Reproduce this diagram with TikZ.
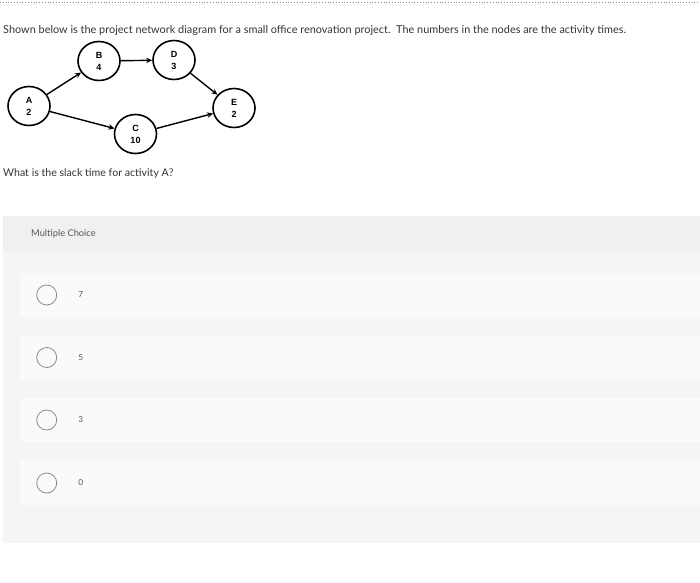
\documentclass[tikz,border=0pt]{standalone}
\usepackage{fontspec}
\setmainfont{Lato}
\newfontfamily\nodefont{Liberation Sans}
\usetikzlibrary{shapes.geometric}
\usetikzlibrary{positioning, arrows.meta}

\definecolor{textgray}{HTML}{333333}
\definecolor{lightgray}{HTML}{555555}
\definecolor{panelhead}{HTML}{F0F0F0}
\definecolor{panelbody}{HTML}{F5F5F5}
\definecolor{optionbox}{HTML}{FAFAFA}
\definecolor{radiogray}{HTML}{8A8A8A}

\begin{document}
\begin{tikzpicture}[x=1pt, y=-1pt]
        % Define styles for shapes
        \tikzset{
            activity/.style={draw, ellipse, line width=1.6pt, minimum width=42pt, minimum height=39pt, inner sep=0pt, align=center, font=\nodefont\bfseries\fontsize{9}{12}\selectfont},
            link/.style={line width=1.4pt, -{Stealth[length=6pt, width=5.5pt]}},
            prose/.style={anchor=west, inner sep=0pt, text=textgray, font=\fontsize{10.9}{12}\selectfont},
            radio/.style={draw=radiogray, circle, line width=0.8pt, minimum size=20pt, inner sep=0pt},
            choicetext/.style={inner sep=0pt, text=lightgray, font=\fontsize{8.2}{9}\selectfont}
        }
        \useasboundingbox (0,0) rectangle (700,582);
        % Top dotted rule
        \draw[radiogray, dotted, line width=0.8pt] (0,2) -- (700,2);

        \node[prose] (intro) at (3,30.5) {Shown below is the project network diagram for a small office renovation project.\ \ The numbers in the nodes are the activity times.};

        % Draw activities
        \node[activity] (A) at (29,106) {A\\2};
        \node[activity] (B) at (99,61) {B\\4};
        \node[activity] (D) at (174,60) {D\\3};
        \node[activity] (C) at (135.5,134) {C\\10};
        \node[activity] (E) at (234,108) {E\\2};
        % Draw arrows
        \draw[link] (A) -- (B);
        \draw[link] (B) -- (D);
        \draw[link] (D) -- (E);
        \draw[link] (A) -- (C);
        \draw[link] (C) -- (E);

        \node[prose, font=\fontsize{10.6}{12}\selectfont] (question) at (3,173.5) {What is the slack time for activity A?};

        % Answer panel
        \fill[panelbody] (3,216) rectangle (700,543);
        \fill[panelhead] (3,216) rectangle (700,251);
        \node[prose, text=lightgray, font=\fontsize{9.3}{10}\selectfont] (mc) at (31,234) {Multiple Choice};
        \foreach \val/\y [count=\i] in {7/295, 5/357.5, 3/420, 0/483}{
            \fill[optionbox] (20,\y-22) rectangle (700,\y+22);
            \node[radio] (radio\i) at (46.7,\y) {};
            \node[choicetext, right=21pt of radio\i] (choice\i) {\val};
        }
    \end{tikzpicture}
\end{document}
